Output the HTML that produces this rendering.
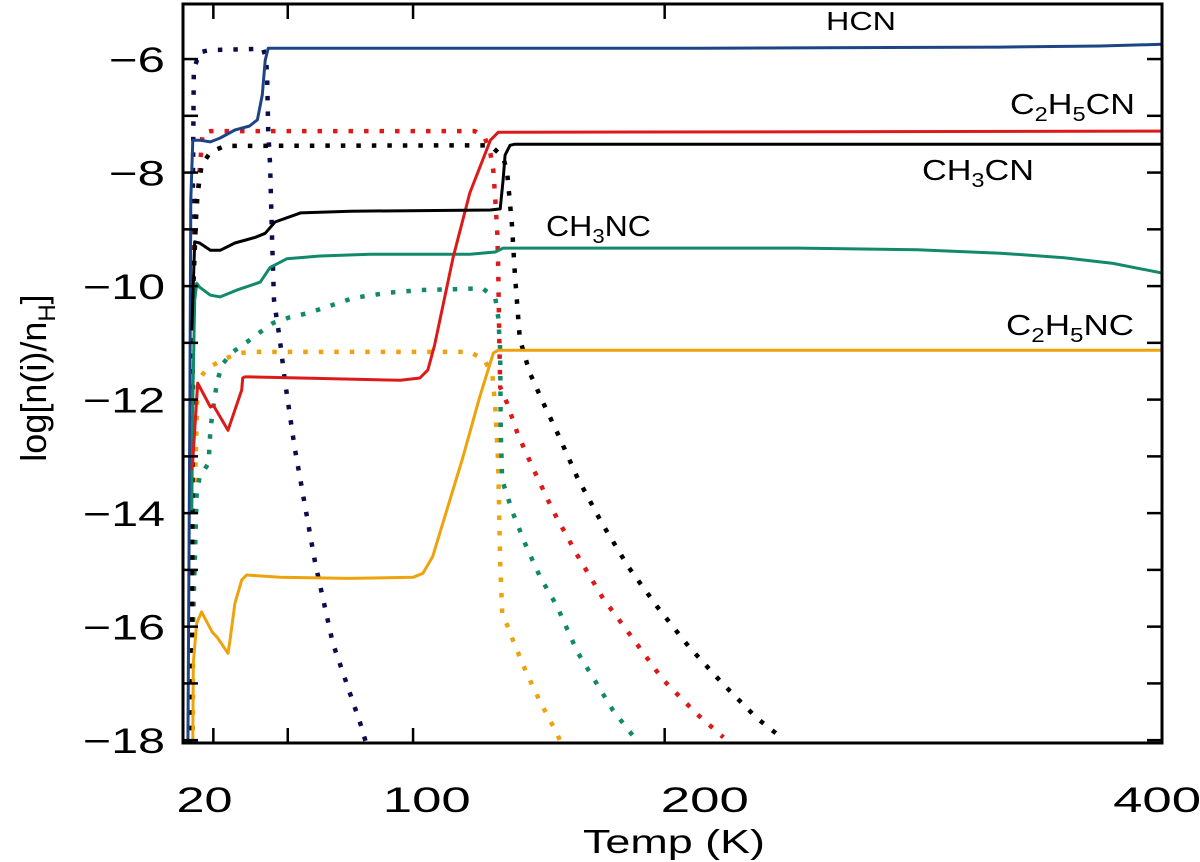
<!DOCTYPE html>
<html><head><meta charset="utf-8">
<style>
html,body{margin:0;padding:0;background:#fff;}
svg{display:block;font-family:"Liberation Sans","DejaVu Sans",sans-serif;}
</style></head>
<body>
<svg id="chart" width="1200" height="862" viewBox="0 0 1200 862" xmlns="http://www.w3.org/2000/svg">
<g id="series"></g>
<rect x="183" y="4" width="979" height="739" fill="none" stroke="#000" stroke-width="3"/>
<g id="ticks"></g>
<g id="labels" font-size="35" fill="#000"></g>
<text x="583" y="853" font-size="33" textLength="182" lengthAdjust="spacingAndGlyphs">Temp (K)</text>
<text transform="translate(46,378) rotate(-90)" font-size="36" text-anchor="middle">log[n(i)/n<tspan font-size="24" dy="9">H</tspan><tspan dy="-9">]</tspan></text>
<text x="826" y="30" font-size="26" textLength="70" lengthAdjust="spacingAndGlyphs">HCN</text>
<text x="1010" y="114" font-size="29" textLength="125" lengthAdjust="spacingAndGlyphs">C<tspan font-size="20" dy="7">2</tspan><tspan dy="-7">H</tspan><tspan font-size="20" dy="7">5</tspan><tspan dy="-7">CN</tspan></text>
<text x="922" y="180" font-size="29" textLength="112" lengthAdjust="spacingAndGlyphs">CH<tspan font-size="20" dy="7">3</tspan><tspan dy="-7">CN</tspan></text>
<text x="546" y="236" font-size="29" textLength="105" lengthAdjust="spacingAndGlyphs">CH<tspan font-size="20" dy="7">3</tspan><tspan dy="-7">NC</tspan></text>
<text x="1006" y="335" font-size="29" textLength="128" lengthAdjust="spacingAndGlyphs">C<tspan font-size="20" dy="7">2</tspan><tspan dy="-7">H</tspan><tspan font-size="20" dy="7">5</tspan><tspan dy="-7">NC</tspan></text>
</svg>
<script>
// x: model time index (0-100), y: log abundance
const yTickValues = [-6,-8,-10,-12,-14,-16,-18];
const yTickLabels = ["\u22126","\u22128","\u221210","\u221212","\u221214","\u221216","\u221218"];
const xTickValues = [2.2,24.9,53.3,99.5];
const xTickLabels = ["20","100","200","400"];
const xMinorTicks = [3.1,10.7,23.5,49.2];

const hcnSolidX=[0.5,0.7,0.8,1.0,1.7,2.8,3.8,5.3,6.8,7.6,8.1,8.4,8.7,22.2,52.8,83.5,93.7,100];
const hcnSolidY=[-18.1,-12.01,-8.48,-7.43,-7.43,-7.46,-7.39,-7.25,-7.18,-7.07,-6.63,-6.02,-5.81,-5.81,-5.81,-5.79,-5.77,-5.74];
const hcnIceX=[0.9,0.9,1.0,1.1,1.7,2.8,8.2,8.5,8.6,8.7,8.9,9.1,9.3,9.9,10.4,11.4,13.5,15.3,18.1,18.7];
const hcnIceY=[-18.1,-12.01,-8.48,-6.19,-5.88,-5.84,-5.82,-6.02,-6.37,-7.25,-7.87,-9.19,-10.25,-10.95,-11.66,-12.84,-14.88,-16.29,-17.70,-18.05];
const c2h5cnSolidX=[0.9,1.0,1.5,2.8,3.1,4.6,6.0,6.1,6.3,6.8,12.0,22.2,24.2,25.0,25.7,27.6,29.3,31.4,32.2,100];
const c2h5cnSolidY=[-13.24,-13.07,-11.71,-12.13,-12.10,-12.54,-11.83,-11.62,-11.60,-11.60,-11.62,-11.66,-11.62,-11.48,-11.04,-9.49,-8.36,-7.43,-7.29,-7.27];
const c2h5cnIceX=[0.9,1.0,2.0,2.8,29.8,30.8,31.4,31.7,31.9,32.1,32.2,32.3,32.4,33.1,34.2,35.6,37.8,40.2,42.9,46.0,49.0,52.5,55.2];
const c2h5cnIceY=[-18.1,-9.52,-7.30,-7.27,-7.27,-7.37,-7.66,-7.96,-8.48,-9.07,-9.67,-10.83,-11.78,-12.06,-12.61,-13.15,-13.96,-14.72,-15.50,-16.22,-16.93,-17.54,-17.95];
const ch3cnSolidX=[0.9,1.2,1.7,2.8,3.8,5.3,7.4,8.4,9.4,12.0,17.1,31.4,32.4,32.7,32.9,33.4,33.9,100];
const ch3cnSolidY=[-10.78,-9.22,-9.24,-9.37,-9.37,-9.24,-9.14,-9.07,-8.87,-8.71,-8.68,-8.66,-8.64,-8.13,-7.69,-7.52,-7.50,-7.50];
const ch3cnIceX=[0.9,1.0,1.4,1.9,2.8,4.3,31.4,32.7,33.1,33.6,33.9,34.4,35.4,36.8,38.2,40.3,42.8,45.5,48.4,51.6,55.1,58.6,61.3];
const ch3cnIceY=[-18.1,-10.25,-8.48,-7.87,-7.64,-7.53,-7.52,-7.73,-7.97,-8.91,-9.79,-10.93,-11.52,-12.06,-12.57,-13.38,-14.18,-14.95,-15.64,-16.34,-17.00,-17.61,-17.98];
const ch3ncSolidX=[0.9,1.0,1.2,1.4,1.7,2.8,3.8,5.5,7.9,8.9,10.6,14.0,19.1,29.3,31.9,32.7,63.0,75.0,83.5,90.0,95.0,100];
const ch3ncSolidY=[-13.95,-12.01,-10.25,-9.95,-10.02,-10.16,-10.19,-10.07,-9.93,-9.67,-9.52,-9.47,-9.44,-9.44,-9.40,-9.33,-9.33,-9.36,-9.42,-9.50,-9.60,-9.77];
const ch3ncIceX=[0.9,1.0,1.4,1.7,2.6,2.8,3.0,3.5,4.1,5.1,6.5,7.9,9.2,10.9,12.7,14.3,17.4,20.8,24.2,30.6,31.9,32.2,32.4,32.45,32.6,33.7,35.1,36.5,38.2,40.3,42.1,43.9,45.9];
const ch3ncIceY=[-18.1,-16.06,-13.65,-13.37,-13.12,-12.54,-12.24,-11.66,-11.36,-11.16,-10.99,-10.81,-10.65,-10.55,-10.48,-10.39,-10.21,-10.12,-10.07,-10.04,-10.21,-10.55,-11.13,-12.54,-13.42,-14.00,-14.60,-15.13,-15.64,-16.45,-16.96,-17.47,-17.91];
const c2h5ncSolidX=[1.0,1.05,1.4,1.9,2.5,3.0,3.5,4.6,4.8,5.3,6.0,6.5,9.9,16.8,23.5,24.5,25.5,28.6,30.3,31.7,32.2,100];
const c2h5ncSolidY=[-18.1,-16.64,-15.94,-15.74,-15.94,-16.10,-16.19,-16.47,-16.24,-15.59,-15.18,-15.09,-15.13,-15.15,-15.13,-15.06,-14.77,-13.01,-11.96,-11.18,-11.13,-11.13];
const c2h5ncIceX=[1.0,1.05,1.2,1.5,2.6,4.1,5.6,7.4,29.3,30.8,31.6,31.9,32.2,32.4,32.6,33.2,33.7,35.1,36.5,38.2,38.7];
const c2h5ncIceY=[-18.1,-14.88,-13.72,-11.66,-11.43,-11.30,-11.18,-11.16,-11.16,-11.30,-11.57,-12.13,-13.12,-14.88,-15.76,-16.01,-16.24,-16.82,-17.33,-17.88,-18.09];

const X0=183,X1=1162,Y0=4,Y1=743;
const xMin=0,xMax=100,yTop=-5.03,yBot=-18.05;
function sx(v){return X0+(v-xMin)/(xMax-xMin)*(X1-X0);}
function sy(v){return Y0+(yTop-v)/(yTop-yBot)*(Y1-Y0);}
const NS="http://www.w3.org/2000/svg";
const seriesG=document.getElementById('series');
const clip=document.createElementNS(NS,'clipPath');clip.setAttribute('id','pc');
const cr=document.createElementNS(NS,'rect');cr.setAttribute('x',X0);cr.setAttribute('y',Y0);cr.setAttribute('width',X1-X0);cr.setAttribute('height',Y1-Y0);
clip.appendChild(cr);seriesG.appendChild(clip);
seriesG.setAttribute('clip-path','url(#pc)');
function line(xs,ys,color,dotted,name){
  const p=document.createElementNS(NS,'path');
  let d='';for(let i=0;i<xs.length;i++){d+=(i?'L':'M')+sx(xs[i]).toFixed(1)+' '+sy(ys[i]).toFixed(1);}
  p.setAttribute('d',d);p.setAttribute('fill','none');p.setAttribute('stroke',color);
  p.setAttribute('stroke-linejoin','round');
  if(dotted){p.setAttribute('stroke-width','4.5');p.setAttribute('stroke-dasharray','4.5 11');}
  else{p.setAttribute('stroke-width','3');}
  
  
  seriesG.appendChild(p);
}
line(hcnIceX,hcnIceY,'#0c0c4c',true,'hcn-ice-line');
line(c2h5ncIceX,c2h5ncIceY,'#eea20c',true,'c2h5nc-ice-line');
line(ch3ncIceX,ch3ncIceY,'#12896a',true,'ch3nc-ice-line');
line(c2h5cnIceX,c2h5cnIceY,'#dc1a1a',true,'c2h5cn-ice-line');
line(ch3cnIceX,ch3cnIceY,'#000000',true,'ch3cn-ice-line');
line(hcnSolidX,hcnSolidY,'#1d4585',false,'hcn-gas-line');
line(c2h5ncSolidX,c2h5ncSolidY,'#eea20c',false,'c2h5nc-gas-line');
line(ch3ncSolidX,ch3ncSolidY,'#12896a',false,'ch3nc-gas-line');
line(c2h5cnSolidX,c2h5cnSolidY,'#dc1a1a',false,'c2h5cn-gas-line');
line(ch3cnSolidX,ch3cnSolidY,'#000000',false,'ch3cn-gas-line');

const tg=document.getElementById('ticks');
function tick(x1,y1,x2,y2,name){
  const l=document.createElementNS(NS,'line');
  l.setAttribute('x1',x1);l.setAttribute('y1',y1);l.setAttribute('x2',x2);l.setAttribute('y2',y2);
  l.setAttribute('stroke','#000');l.setAttribute('stroke-width','2.5');
  
  
  tg.appendChild(l);
}
for(let v=-6;v>=-18;v--){const y=sy(v);tick(X0,y,X0+15,y,'y-tick');tick(X1,y,X1-15,y,'y-tick-right');}
xMinorTicks.forEach(v=>{const x=sx(v);tick(x,Y1,x,Y1-15,'x-tick');tick(x,Y0,x,Y0+15,'x-tick-top');});
const lg=document.getElementById('labels');
yTickValues.forEach((v,i)=>{
  const t=document.createElementNS(NS,'text');
  t.setAttribute('x',165);t.setAttribute('y',sy(v)+13);t.setAttribute('text-anchor','end');
  t.setAttribute('textLength',yTickLabels[i].length>2?82:56);
  t.setAttribute('lengthAdjust','spacingAndGlyphs');
  t.textContent=yTickLabels[i];
  
  
  lg.appendChild(t);
});
xTickValues.forEach((v,i)=>{
  const t=document.createElementNS(NS,'text');
  t.setAttribute('x',sx(v));t.setAttribute('y',812);t.setAttribute('text-anchor','middle');
  t.setAttribute('textLength',xTickLabels[i].length>2?88:56);
  t.setAttribute('lengthAdjust','spacingAndGlyphs');
  t.textContent=xTickLabels[i];
  
  
  lg.appendChild(t);
});
</script>
</body></html>
